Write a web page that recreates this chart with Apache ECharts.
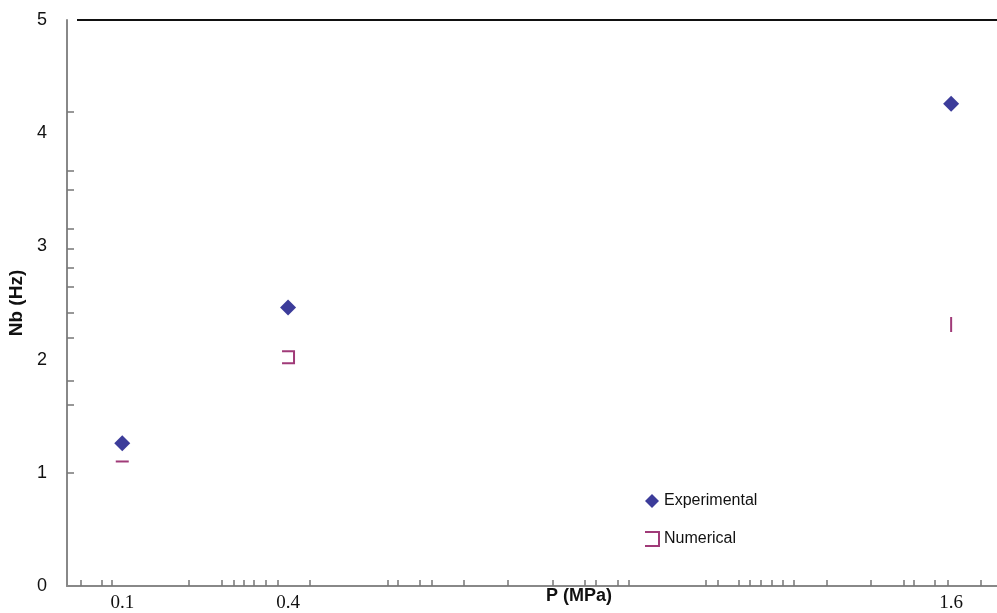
<!DOCTYPE html>
<html><head><meta charset="utf-8">
<script src="https://cdn.jsdelivr.net/npm/echarts@6/dist/echarts.min.js"></script>
<style>html,body{margin:0;padding:0;background:#fff}#c{width:997px;height:613px}</style>
</head><body><div id="c"></div>
<script>
const pressure = [0.1, 0.4, 1.6];
const experimental = [1.26, 2.46, 4.26];
const numerical = [1.1, 2.02, 2.31];
const xLabels = [0.1, 0.4, 1.6];
const yLabels = [0, 1, 2, 3, 4, 5];
const xTicks = [0.024,0.062,0.081,0.221,0.280,0.302,0.320,0.338,0.360,0.382,0.439,0.580,0.599,0.638,0.660,0.718,0.797,0.879,0.937,0.957,0.996,1.016,1.156,1.177,1.215,1.235,1.255,1.275,1.295,1.315,1.374,1.454,1.514,1.532,1.571,1.593,1.653];
const yTicks = [1.60,1.81,2.19,2.41,2.64,2.81,2.98,3.16,3.50,3.67,4.19];

const bracket = 'path://M0,0L10,0L10,10L0,10';
const numSymbols = [
  {symbol:'rect', symbolSize:[13,2], itemStyle:{color:'#a03a78', borderWidth:0}},
  {},
  {symbol:'rect', symbolSize:[2,15], itemStyle:{color:'#a03a78', borderWidth:0}}
];

const chart = echarts.init(document.getElementById('c'));
chart.setOption({
  animation:false,
  grid:{left:67, right:0, top:20, bottom:27, containLabel:false, outerBoundsMode:'none'},
  legend:{
    orient:'vertical', left:639, top:488, itemGap:22, itemWidth:14, itemHeight:14,
    textStyle:{fontFamily:'Liberation Sans', fontSize:16, color:'#111'},
    data:[{name:'Experimental', icon:'diamond'},{name:'Numerical', icon:bracket}]
  },
  graphic:[
    {type:'text', left:546, top:587, style:{text:'P (MPa)', font:'bold 18px "Liberation Sans"', fill:'#111'}},
    {type:'line', shape:{x1:77, y1:20, x2:997, y2:20}, style:{stroke:'#111', lineWidth:2}}
  ],
  xAxis:{
    type:'value', min:0, max:1.683,
    axisLine:{lineStyle:{color:'#888', width:2}},
    splitLine:{show:false},
    axisTick:{show:true, inside:true, length:6, customValues:xTicks, lineStyle:{color:'#777', width:1.5}},
    axisLabel:{customValues:xLabels, margin:8, fontFamily:'Liberation Serif', fontSize:19, color:'#111', formatter:v=>String(v)}
  },
  yAxis:{
    type:'value', min:0, max:5,
    name:'Nb (Hz)', nameLocation:'middle', nameGap:38, nameRotate:90,
    nameTextStyle:{fontFamily:'Liberation Sans', fontWeight:'bold', fontSize:19, color:'#111'},
    axisLine:{show:true, lineStyle:{color:'#888', width:2}},
    splitLine:{show:false},
    axisTick:{show:true, inside:true, length:7, customValues:yTicks.concat([1]), lineStyle:{color:'#777', width:1.5}},
    axisLabel:{customValues:yLabels, margin:20, fontFamily:'Liberation Sans', fontSize:18, color:'#111'}
  },
  series:[
    {name:'Experimental', type:'scatter', symbol:'diamond', symbolSize:16,
     itemStyle:{color:'#3c3c9a', opacity:1},
     data:pressure.map((p,i)=>[p, experimental[i]])},
    {name:'Numerical', type:'scatter', symbol:bracket, symbolSize:12,
     itemStyle:{color:'rgba(0,0,0,0)', borderColor:'#a03a78', borderWidth:2, opacity:1},
     data:pressure.map((p,i)=>Object.assign({value:[p, numerical[i]]}, numSymbols[i]))}
  ]
});
</script></body></html>
